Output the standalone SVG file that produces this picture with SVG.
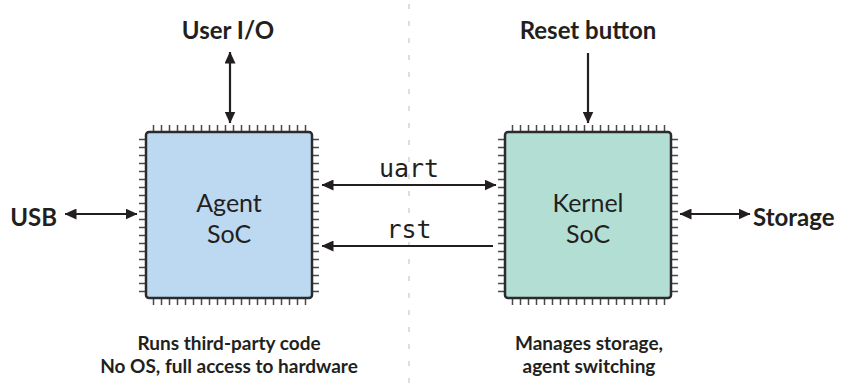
<svg xmlns="http://www.w3.org/2000/svg" xmlns:xlink="http://www.w3.org/1999/xlink" width="851" height="386" viewBox="0 0 851 386">
  <style>
    .label { font-family: Lato, "Open Sans", "Liberation Sans", sans-serif; font-weight: 700; font-size: 24px; fill: #231f20; }
    .desc { font-family: Lato, "Open Sans", "Liberation Sans", sans-serif; font-weight: 700; font-size: 19px; fill: #231f20; text-anchor: middle; }
    .chipname { font-family: Lato, "Open Sans", "Liberation Sans", sans-serif; font-weight: 400; font-size: 25px; fill: #231f20; text-anchor: middle; }
    .sig { font-family: "DejaVu Sans Mono", "Liberation Mono", monospace; font-size: 25px; fill: #231f20; text-anchor: middle; }
    .body { stroke: #2b2b2b; stroke-width: 2.5; }
    .pins { stroke: #4a4a4a; stroke-width: 7; stroke-dasharray: 1.5 6.5; fill: none; }
    .wire { stroke: #231f20; stroke-width: 2.2; fill: none; }
    .divider { stroke: #d3d3d3; stroke-width: 1.5; stroke-dasharray: 5 12; }
  </style>
  <defs>
    <marker id="head" viewBox="0 0 12 11" refX="11.5" refY="5.5" markerWidth="12" markerHeight="11" markerUnits="userSpaceOnUse" orient="auto-start-reverse">
      <path d="M0,0 L12,5.5 L0,11 Z" fill="#231f20"/>
    </marker>
    <!-- pin rows around a 166x166 package -->
    <g id="pinrows">
      <line class="pins" x1="6.75" y1="-3.5" x2="160.25" y2="-3.5"/>
      <line class="pins" x1="6.75" y1="169.5" x2="160.25" y2="169.5"/>
      <line class="pins" x1="-3.5" y1="6.75" x2="-3.5" y2="160.25"/>
      <line class="pins" x1="169.5" y1="6.75" x2="169.5" y2="160.25"/>
    </g>
  </defs>

  <rect width="851" height="386" fill="#ffffff"/>

  <!-- split between the two SoCs -->
  <line class="divider" x1="409" y1="4" x2="409" y2="386"/>

  <g id="agent-soc" transform="translate(146,132)">
    <use xlink:href="#pinrows"/>
    <rect class="body" x="0" y="0" width="166" height="166" rx="3" fill="#bcd9f1"/>
    <text class="chipname" x="83" y="80">Agent</text>
    <text class="chipname" x="83" y="111">SoC</text>
  </g>

  <g id="kernel-soc" transform="translate(505,132)">
    <use xlink:href="#pinrows"/>
    <rect class="body" x="0" y="0" width="166" height="166" rx="3" fill="#b3ded4"/>
    <text class="chipname" x="83" y="80">Kernel</text>
    <text class="chipname" x="83" y="111">SoC</text>
  </g>

  <g id="user-io">
    <text class="label" x="228" y="39" text-anchor="middle">User I/O</text>
  </g>
  <g id="reset-button">
    <text class="label" x="588" y="39" text-anchor="middle">Reset button</text>
  </g>
  <g id="usb">
    <text class="label" x="57" y="226" text-anchor="end">USB</text>
  </g>
  <g id="storage">
    <text class="label" x="753" y="226">Storage</text>
  </g>

  <g id="agent-notes">
    <text class="desc" x="229" y="350">Runs third-party code</text>
    <text class="desc" x="229" y="373">No OS, full access to hardware</text>
  </g>
  <g id="kernel-notes">
    <text class="desc" x="589" y="350">Manages storage,</text>
    <text class="desc" x="589" y="373">agent switching</text>
  </g>

  <g id="connectors">
    <line class="wire" x1="230" y1="52" x2="230" y2="123" marker-start="url(#head)" marker-end="url(#head)"/>
    <line class="wire" x1="588" y1="53" x2="588" y2="123" marker-end="url(#head)"/>
    <line class="wire" x1="65" y1="214" x2="137" y2="214" marker-start="url(#head)" marker-end="url(#head)"/>
    <line class="wire" x1="680" y1="214" x2="750" y2="214" marker-start="url(#head)" marker-end="url(#head)"/>
    <line class="wire" x1="322" y1="185" x2="496" y2="185" marker-start="url(#head)" marker-end="url(#head)"/>
    <line class="wire" x1="493" y1="246" x2="322" y2="246" marker-end="url(#head)"/>
    <text class="sig" x="409" y="177">uart</text>
    <text class="sig" x="409" y="238">rst</text>
  </g>
</svg>
